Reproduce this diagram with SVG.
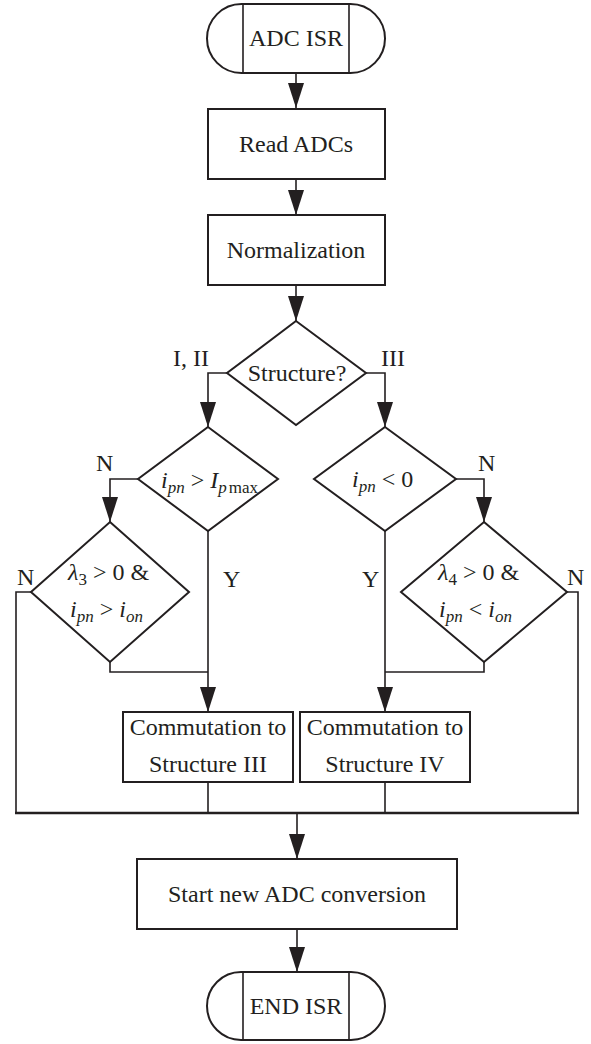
<svg xmlns="http://www.w3.org/2000/svg" width="591" height="1044" viewBox="0 0 591 1044">
<style>
.s{fill:#fff;stroke:#231f20;stroke-width:2}
.c{fill:none;stroke:#231f20;stroke-width:1.6}
.bus{fill:none;stroke:#231f20;stroke-width:2.6}
text{font-family:"Liberation Serif","Times New Roman",serif;font-size:24px;fill:#231f20}
.m{text-anchor:middle}
.i{font-style:italic}
.sb{font-size:17px}
</style>
<defs>
<marker id="a" markerUnits="userSpaceOnUse" markerWidth="16" markerHeight="26" viewBox="0 0 16 26" refX="8" refY="25" orient="auto-start-reverse">
<path d="M0,0 L16,0 L8,25 Z" fill="#231f20" transform="rotate(0)"/>
</marker>
<marker id="d" markerUnits="userSpaceOnUse" markerWidth="26" markerHeight="16" viewBox="0 0 26 16" refX="25" refY="8" orient="auto">
<path d="M0,0 L25,8 L0,16 Z" fill="#231f20"/>
</marker>
</defs>
<g id="connectors">
<path class="c" d="M296,73 V108" marker-end="url(#d)"/>
<path class="c" d="M296,179 V215" marker-end="url(#d)"/>
<path class="c" d="M296,285 V321" marker-end="url(#d)"/>
<path class="c" d="M227,373 H208 V427" marker-end="url(#d)"/>
<path class="c" d="M366,373 H385 V427" marker-end="url(#d)"/>
<path class="c" d="M138,479 H110 V522" marker-end="url(#d)"/>
<path class="c" d="M456,479 H484 V522" marker-end="url(#d)"/>
<path class="c" d="M208,531 V712" marker-end="url(#d)"/>
<path class="c" d="M385,531 V712" marker-end="url(#d)"/>
<path class="c" d="M110,662 V672 H208"/>
<path class="c" d="M484,662 V672 H385"/>
<path class="c" d="M31,592 H16 V813"/>
<path class="c" d="M567,592 H578 V813"/>
<path class="c" d="M208,782 V813"/>
<path class="c" d="M385,782 V813"/>
<path class="bus" d="M15,813 H579"/>
<path class="c" d="M297,813 V859" marker-end="url(#d)"/>
<path class="c" d="M297,929 V972" marker-end="url(#d)"/>
</g>
<g id="labels">
<text x="173" y="366">I, II</text>
<text x="381" y="366">III</text>
<text x="96" y="471">N</text>
<text x="478" y="471">N</text>
<text x="17" y="585">N</text>
<text x="567" y="585">N</text>
<text x="223" y="587">Y</text>
<text x="362" y="587">Y</text>
</g>
<g id="start">
<rect class="s" x="207" y="4" width="178" height="69" rx="34.5"/>
<path class="c" d="M243,4 V73 M349,4 V73"/>
<text class="m" x="296" y="46">ADC ISR</text>
</g>
<g id="read">
<rect class="s" x="208" y="109" width="177" height="70"/>
<text class="m" x="296" y="152">Read ADCs</text>
</g>
<g id="norm">
<rect class="s" x="208" y="215" width="177" height="70"/>
<text class="m" x="296" y="258">Normalization</text>
</g>
<g id="structure">
<polygon class="s" points="296,321 366,373 296,425 227,373"/>
<text class="m" x="297" y="381">Structure?</text>
</g>
<g id="d1">
<polygon class="s" points="208,427 278,479 208,531 138,479"/>
<text x="161" y="488"><tspan class="i">i</tspan><tspan class="i sb" dy="5">pn</tspan><tspan dy="-5"> &gt; </tspan><tspan class="i">I</tspan><tspan class="i sb" dy="5">p</tspan><tspan class="sb" dx="2">max</tspan></text>
</g>
<g id="d2">
<polygon class="s" points="110,522 189,592 110,662 31,592"/>
<text x="68" y="580"><tspan class="i">λ</tspan><tspan class="sb" dy="5">3</tspan><tspan dy="-5"> &gt; 0 &amp;</tspan></text>
<text x="70" y="617"><tspan class="i">i</tspan><tspan class="i sb" dy="5">pn</tspan><tspan dy="-5"> &gt; </tspan><tspan class="i">i</tspan><tspan class="i sb" dy="5">on</tspan></text>
</g>
<g id="d3">
<polygon class="s" points="385,427 456,479 385,531 314,479"/>
<text x="352" y="487"><tspan class="i">i</tspan><tspan class="i sb" dy="5">pn</tspan><tspan dy="-5"> &lt; 0</tspan></text>
</g>
<g id="d4">
<polygon class="s" points="484,522 567,592 484,662 401,592"/>
<text x="438" y="580"><tspan class="i">λ</tspan><tspan class="sb" dy="5">4</tspan><tspan dy="-5"> &gt; 0 &amp;</tspan></text>
<text x="439" y="617"><tspan class="i">i</tspan><tspan class="i sb" dy="5">pn</tspan><tspan dy="-5"> &lt; </tspan><tspan class="i">i</tspan><tspan class="i sb" dy="5">on</tspan></text>
</g>
<g id="comm3">
<rect class="s" x="123" y="712" width="170" height="70"/>
<text class="m" x="208" y="735">Commutation to</text>
<text class="m" x="208" y="772">Structure III</text>
</g>
<g id="comm4">
<rect class="s" x="300" y="712" width="170" height="70"/>
<text class="m" x="385" y="735">Commutation to</text>
<text class="m" x="385" y="772">Structure IV</text>
</g>
<g id="startconv">
<rect class="s" x="137" y="859" width="320" height="70"/>
<text class="m" x="297" y="902">Start new ADC conversion</text>
</g>
<g id="end">
<rect class="s" x="207" y="972" width="178" height="68" rx="34"/>
<path class="c" d="M243,972 V1040 M349,972 V1040"/>
<text class="m" x="296" y="1014">END ISR</text>
</g>
</svg>
